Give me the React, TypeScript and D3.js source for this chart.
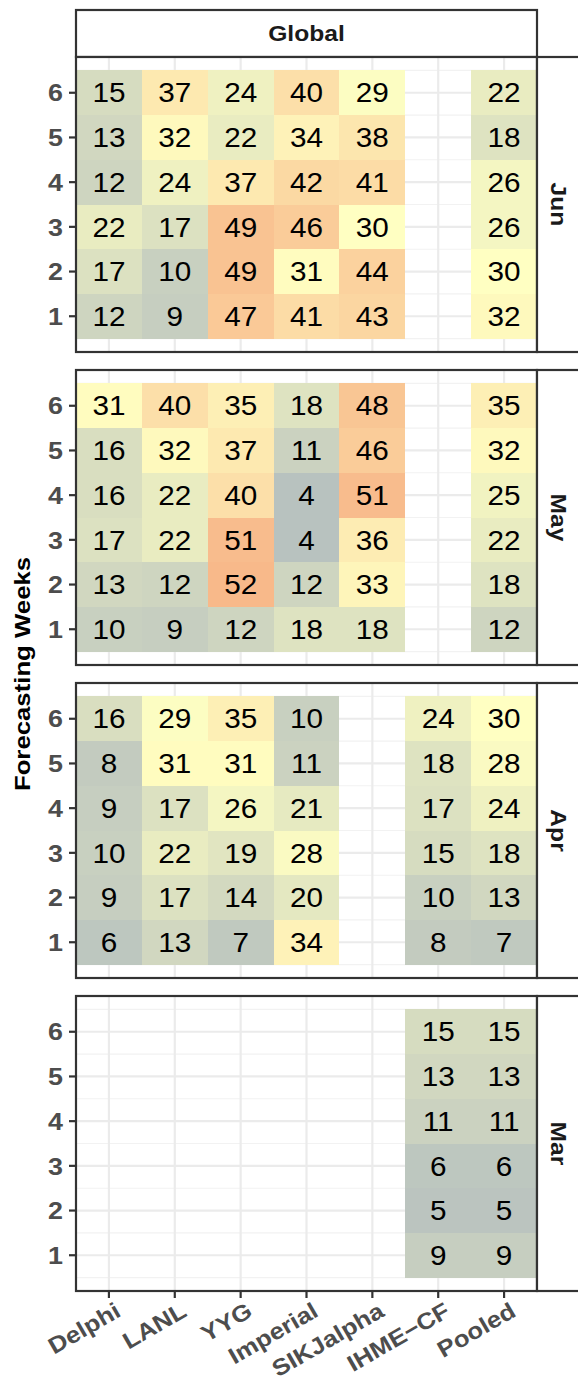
import React from 'react'
import * as d3 from 'd3'

// models on the x axis, forecasting weeks on the y axis
const models = ['Delphi', 'LANL', 'YYG', 'Imperial', 'SIKJalpha', 'IHME\u2212CF', 'Pooled']
const weeks = [1, 2, 3, 4, 5, 6]
const months = ['Jun', 'May', 'Apr', 'Mar']

// one row per model, values for weeks 1..6 (null = no forecast)
const junValues = [
  [12, 17, 22, 12, 13, 15],
  [9, 10, 17, 24, 32, 37],
  [47, 49, 49, 37, 22, 24],
  [41, 31, 46, 42, 34, 40],
  [43, 44, 30, 41, 38, 29],
  null,
  [32, 30, 26, 26, 18, 22],
]
const mayValues = [
  [10, 13, 17, 16, 16, 31],
  [9, 12, 22, 22, 32, 40],
  [12, 52, 51, 40, 37, 35],
  [18, 12, 4, 4, 11, 18],
  [18, 33, 36, 51, 46, 48],
  null,
  [12, 18, 22, 25, 32, 35],
]
const aprValues = [
  [6, 9, 10, 9, 8, 16],
  [13, 17, 22, 17, 31, 29],
  [7, 14, 19, 26, 31, 35],
  [34, 20, 28, 21, 11, 10],
  null,
  [8, 10, 15, 17, 18, 24],
  [7, 13, 18, 24, 28, 30],
]
const marValues = [
  null,
  null,
  null,
  null,
  null,
  [9, 5, 6, 11, 13, 15],
  [9, 5, 6, 11, 13, 15],
]
const monthValues = [junValues, mayValues, aprValues, marValues]

const fillStops = [4, 30, 52]
const fillColors = ['#b8c2bf', '#ffffc2', '#f8b98a']

const FONT = '"Liberation Sans", Arial, sans-serif'
const border = '#333333'
const SX = 1.12 // the original font runs a bit wider than Arial

function Label({ x, y, angle = 0, sx = SX, children, ...rest }: any) {
  return (
    <text
      transform={`translate(${x},${y}) rotate(${angle}) scale(${sx},1)`}
      fontFamily={FONT}
      {...rest}
    >
      {children}
    </text>
  )
}

export default function App() {
  const left = 76
  const right = 537
  const stripTop = 10
  const firstTop = 57
  const panelH = 295
  const gap = 18
  const stripW = 46

  const x = d3.scaleBand<string>().domain(models).range([left, right]).padding(0)
  const fill = d3
    .scaleLinear<string>()
    .domain(fillStops)
    .range(fillColors)
    .interpolate(d3.interpolateRgb)
    .clamp(true)

  const lastBottom = firstTop + 3 * (panelH + gap) + panelH

  const panels = months.map((month, i) => {
    const top = firstTop + i * (panelH + gap)
    const y = d3.scaleLinear().domain([0.2, 6.8]).range([top + panelH, top])
    const vals = monthValues[i]
    const minor = d3.range(0.5, 7, 1)
    return (
      <g key={month}>
        <rect x={left} y={top} width={right - left} height={panelH} fill="#fff" />
        {minor.map((v) => (
          <line key={'mn' + v} x1={left} x2={right} y1={y(v)} y2={y(v)} stroke="#f2f2f2" strokeWidth={1.1} />
        ))}
        {weeks.map((w) => (
          <line key={'mj' + w} x1={left} x2={right} y1={y(w)} y2={y(w)} stroke="#ebebeb" strokeWidth={2.2} />
        ))}
        {models.map((m) => (
          <line
            key={'gx' + m}
            x1={x(m)! + x.bandwidth() / 2}
            x2={x(m)! + x.bandwidth() / 2}
            y1={top}
            y2={top + panelH}
            stroke="#ebebeb"
            strokeWidth={2.2}
          />
        ))}
        {models.map((m, mi) =>
          vals[mi]
            ? vals[mi]!.map((v, wi) => {
                const w = weeks[wi]
                return (
                  <g key={m + w}>
                    <rect
                      x={x(m)}
                      y={y(w + 0.5)}
                      width={x.bandwidth()}
                      height={y(w - 0.5) - y(w + 0.5)}
                      fill={fill(v)}
                      shapeRendering="crispEdges"
                    />
                    <Label
                      x={x(m)! + x.bandwidth() / 2}
                      y={y(w)}
                      sx={1.1}
                      dy="0.36em"
                      textAnchor="middle"
                      fontSize={27}
                      fill="#000"
                    >
                      {v}
                    </Label>
                  </g>
                )
              })
            : null
        )}
        <rect x={left} y={top} width={right - left} height={panelH} fill="none" stroke={border} strokeWidth={2.2} />
        {/* y axis */}
        {weeks.map((w) => (
          <g key={'yt' + w}>
            <line x1={left - 7} x2={left} y1={y(w)} y2={y(w)} stroke={border} strokeWidth={2.2} />
            <Label
              x={left - 13}
              y={y(w)}
              dy="0.36em"
              textAnchor="end"
              fontWeight="bold"
              fontSize={24}
              fill="#4d4d4d"
            >
              {w}
            </Label>
          </g>
        ))}
        {/* right strip */}
        <rect x={right} y={top} width={stripW} height={panelH} fill="#fff" stroke={border} strokeWidth={2.2} />
        <Label
          x={right + stripW / 2 - 1}
          y={top + panelH / 2}
          angle={90}
          dy="0.36em"
          textAnchor="middle"
          fontWeight="bold"
          fontSize={22}
          fill="#1a1a1a"
        >
          {month}
        </Label>
      </g>
    )
  })

  return (
    <svg width={578} height={1395} style={{ position: 'absolute', left: 0, top: 0, background: '#fff' }}>
      <rect width={578} height={1395} fill="#fff" />
      {/* top strip */}
      <rect x={left} y={stripTop} width={right - left} height={firstTop - stripTop} fill="#fff" stroke={border} strokeWidth={2.2} />
      <Label
        x={(left + right) / 2}
        y={(stripTop + firstTop) / 2}
        dy="0.36em"
        textAnchor="middle"
        fontWeight="bold"
        fontSize={22}
        fill="#1a1a1a"
      >
        Global
      </Label>
      {panels}
      {/* x axis */}
      {models.map((m) => {
        const cx = x(m)! + x.bandwidth() / 2
        return (
          <g key={'xt' + m}>
            <line x1={cx} x2={cx} y1={lastBottom} y2={lastBottom + 7} stroke={border} strokeWidth={2.2} />
            <Label
              x={cx + 5}
              y={lastBottom + 10}
              angle={-30}
              dy="0.72em"
              textAnchor="end"
              fontWeight="bold"
              fontSize={23}
              fill="#4d4d4d"
            >
              {m}
            </Label>
          </g>
        )
      })}
      <Label
        x={22}
        y={(firstTop + lastBottom) / 2}
        angle={-90}
        dy="0.36em"
        textAnchor="middle"
        fontWeight="bold"
        fontSize={23}
        fill="#000"
      >
        Forecasting Weeks
      </Label>
    </svg>
  )
}
